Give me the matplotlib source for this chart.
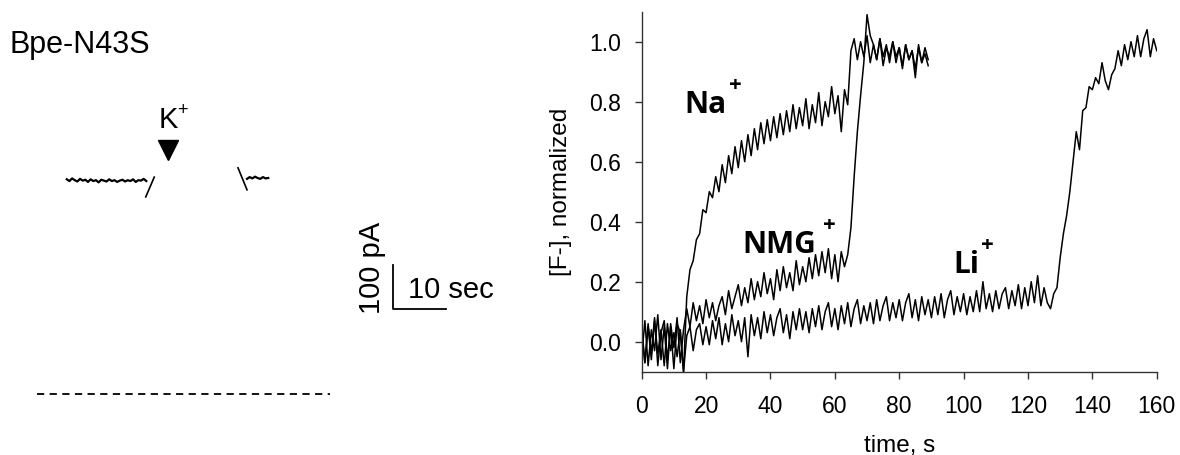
import numpy as np
import matplotlib
matplotlib.use("Agg")
import matplotlib.pyplot as plt

plt.rcParams['font.family'] = ['Liberation Sans', 'DejaVu Sans']

# ---- left panel: current trace (time in s, current in pA) ----
trace1_t = np.linspace(12.6, 27.6, 31)
trace1_pa = [488, 484, 490, 486, 483, 489, 485, 487, 482, 488, 484, 486, 481, 487, 485, 483,
             488, 484, 486, 482, 485, 487, 483, 486, 484, 488, 482, 486, 485, 489, 484]
trace2_t = np.linspace(46.6, 50.6, 9)
trace2_pa = [489, 493, 490, 494, 491, 489, 493, 490, 491]
break1 = ([27.5, 29.1], [448, 493])
break2 = ([44.9, 46.6], [514, 464])
zero_line_t = [7.0, 62.3]
k_time = 31.7
scalebar_t = 10    # sec
scalebar_pa = 100  # pA

# ---- right panel: normalized [F-] vs time ----
t_short = np.arange(0, 90)
na = [0.05, -0.07, 0.06, -0.04, 0.08, -0.08, 0.03, 0.07, -0.06, 0.05, -0.09, 0.06, 0.03,
      -0.10,
      0.15, 0.24, 0.27, 0.34, 0.36, 0.44, 0.43, 0.50, 0.48,
      0.55, 0.50, 0.59, 0.53, 0.62, 0.56, 0.65, 0.58, 0.67, 0.60, 0.69, 0.62, 0.71, 0.64,
      0.73, 0.66, 0.74, 0.67,
      0.75, 0.68, 0.76, 0.69, 0.77, 0.70, 0.79, 0.71, 0.78, 0.72, 0.81, 0.71, 0.79, 0.73,
      0.83, 0.72, 0.80, 0.75, 0.85, 0.76, 0.82, 0.70, 0.84, 0.79,
      0.97, 1.01, 0.94, 1.00, 0.95, 1.02, 0.93, 0.99, 0.94, 1.01, 0.92, 0.98, 0.95, 1.00,
      0.93, 0.98, 0.91, 0.99, 0.94, 0.97, 0.88, 0.99, 0.93, 0.98, 0.94]
nmg = [-0.05, 0.07, -0.08, 0.04, -0.03, 0.09, -0.06, 0.05, -0.09, 0.06, -0.02, 0.08, -0.07,
       0.04,
       0.11, 0.05, 0.13, 0.07, 0.12, 0.06, 0.14, 0.08, 0.13, 0.07, 0.12, 0.15, 0.09, 0.17,
       0.11, 0.15,
       0.19, 0.12, 0.18, 0.13, 0.21, 0.14, 0.20, 0.15, 0.23, 0.16, 0.21, 0.14, 0.24, 0.17,
       0.25, 0.18, 0.23, 0.17, 0.27, 0.19, 0.25, 0.20, 0.28, 0.21, 0.29, 0.22, 0.30, 0.23,
       0.31, 0.21, 0.29, 0.20, 0.30, 0.25,
       0.29, 0.38, 0.55, 0.70, 0.82, 0.93,
       1.09, 1.02, 0.99, 0.94, 1.01, 0.95, 0.99, 0.93, 1.00, 0.95, 0.98, 0.92, 0.99, 0.94,
       0.97, 0.91, 0.98, 0.93, 0.96, 0.92]
t_long = np.arange(0, 161)
li = [0.03, -0.07, 0.05, -0.06, 0.07, -0.04, 0.04, -0.08, 0.06, -0.03,
      0.03, -0.05, 0.04, -0.10, 0.02, 0.05, -0.03, 0.04, 0.06, -0.01,
      0.05, -0.01, 0.07, 0.01, 0.08, -0.01, 0.06, 0.00, 0.09, 0.02,
      0.07, 0.00, 0.08, -0.05, 0.09, 0.02, 0.08, 0.01, 0.10, 0.03,
      0.09, 0.02, 0.08, 0.11, 0.03, 0.09, 0.01, 0.10, 0.04, 0.11,
      0.04, 0.10, 0.03, 0.11, 0.05, 0.12, 0.04, 0.10, 0.13, 0.05,
      0.11, 0.04, 0.12, 0.06, 0.13, 0.05, 0.11, 0.14, 0.06, 0.12,
      0.07, 0.13, 0.06, 0.14, 0.07, 0.12, 0.15, 0.07, 0.13, 0.08,
      0.14, 0.07, 0.13, 0.16, 0.08, 0.14, 0.07, 0.15, 0.09, 0.14,
      0.08, 0.15, 0.09, 0.16, 0.08, 0.14, 0.17, 0.09, 0.15, 0.10,
      0.16, 0.09, 0.15, 0.10, 0.17, 0.10, 0.20, 0.11, 0.16, 0.10,
      0.17, 0.11, 0.16, 0.18, 0.11, 0.17, 0.12, 0.19, 0.11, 0.18,
      0.12, 0.20, 0.13, 0.22, 0.12, 0.18, 0.13, 0.11, 0.16, 0.18,
      0.28, 0.36, 0.42, 0.50, 0.60, 0.70, 0.64, 0.77, 0.78, 0.85,
      0.84, 0.88, 0.86, 0.93, 0.87, 0.84, 0.89, 0.91, 0.97, 0.92,
      0.99, 0.94, 1.00, 0.95, 1.02, 0.95, 1.01, 1.04, 0.95, 1.01,
      0.97]
x_ticks = [0, 20, 40, 60, 80, 100, 120, 140, 160]
y_ticks = [0.0, 0.2, 0.4, 0.6, 0.8, 1.0]

fig = plt.figure(figsize=(11.8, 4.55), dpi=100)

# left panel
ax0 = fig.add_axes([0, 0, 0.5, 1])
ax0.set_xlim(0, 111.3)
ax0.set_ylim(-138.6, 895.5)
ax0.axis('off')
ax0.plot(trace1_t, trace1_pa, color='black', lw=1.6)
ax0.plot(trace2_t, trace2_pa, color='black', lw=1.6)
ax0.plot(*break1, color='black', lw=1.2)
ax0.plot(*break2, color='black', lw=1.2)
ax0.plot(zero_line_t, [0, 0], color='black', lw=1.3, ls=(0, (4, 3)))
ax0.plot([k_time], [555], marker='v', color='black', markersize=14)
ax0.text(k_time, 590, 'K', fontsize=21, ha='center', va='bottom')
ax0.text(k_time + 2.7, 645, '+', fontsize=13, ha='center', va='center')
sx, sy = 74.2, 193
ax0.plot([sx, sx, sx + scalebar_t], [sy + scalebar_pa, sy, sy], color='black', lw=1.3)
ax0.text(sx + 2.8, 218, '10 sec', fontsize=21, ha='left', va='baseline')
ax0.text(sx - 4.0, 286, '100 pA', fontsize=21, rotation=90, ha='center', va='center')
fig.text(10 / 1180, 1 - 53 / 455, 'Bpe-N43S', fontsize=22, ha='left', va='baseline')

# right panel
ax = fig.add_axes([0.5438, 0.1831, 0.4365, 0.7912])
ax.plot(t_short, na, color='black', lw=1.1)
ax.plot(t_short, nmg, color='black', lw=1.1)
ax.plot(t_long, li, color='black', lw=1.1)
ax.set_xlim(0, 160)
ax.set_ylim(-0.1, 1.1)
ax.set_xticks(x_ticks)
ax.set_yticks(y_ticks)
ax.set_yticklabels([f'{v:.1f}' for v in y_ticks])
ax.spines['top'].set_visible(False)
ax.spines['right'].set_visible(False)
for s in ['left', 'bottom']:
    ax.spines[s].set_color('#333333')
    ax.spines[s].set_linewidth(1.0)
ax.tick_params(axis='y', length=5, width=1, labelsize=16.5, pad=10, colors='#333333', labelcolor='black')
ax.tick_params(axis='x', length=5, width=1, labelsize=16.5, pad=12, colors='#333333', labelcolor='black')
ax.set_xlabel('time, s', fontsize=17.5, labelpad=12)
ax.set_ylabel('[F-], normalized', fontsize=17.5, labelpad=12)

ion_font = dict(family=['Open Sans', 'DejaVu Sans'], fontweight='bold', color='black')
ax.text(13.4, 0.762, 'Na', fontsize=21.5, ha='left', va='baseline', **ion_font)
ax.text(29.0, 0.855, '+', fontsize=16, ha='center', va='center', **ion_font)
ax.text(31.2, 0.296, 'NMG', fontsize=21.5, ha='left', va='baseline', **ion_font)
ax.text(58.2, 0.388, '+', fontsize=16, ha='center', va='center', **ion_font)
ax.text(96.7, 0.229, 'Li', fontsize=21.5, ha='left', va='baseline', **ion_font)
ax.text(107.4, 0.322, '+', fontsize=16, ha='center', va='center', **ion_font)

fig.savefig('out.png', dpi=100)
